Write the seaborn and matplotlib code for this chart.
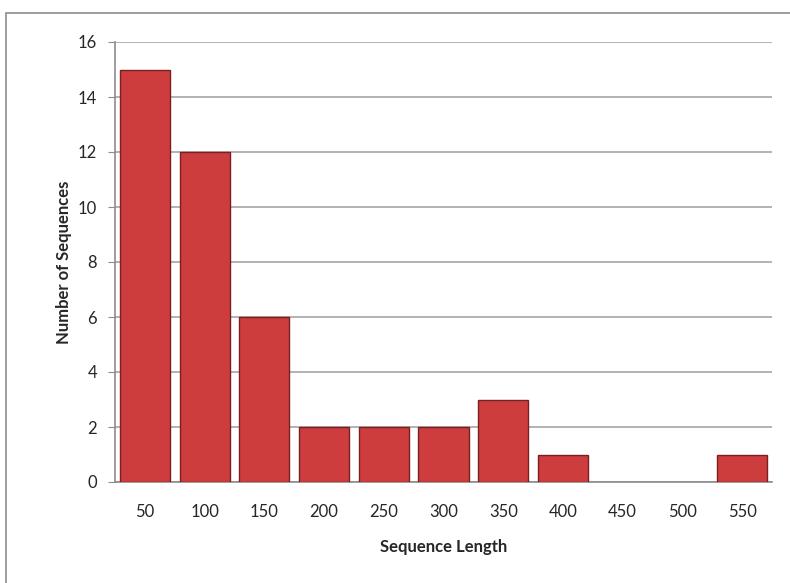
import matplotlib
matplotlib.use("Agg")
import matplotlib.pyplot as plt
import seaborn as sns
import pandas as pd
from matplotlib.patches import Rectangle

lengths = ["50", "100", "150", "200", "250", "300", "350", "400", "450", "500", "550"]
counts = [15, 12, 6, 2, 2, 2, 3, 1, 0, 0, 1]
y_ticks = [0, 2, 4, 6, 8, 10, 12, 14, 16]

df = pd.DataFrame({"Sequence Length": lengths, "Number of Sequences": counts})

sns.set_style("white")
plt.rcParams["font.family"] = ["Lato", "DejaVu Sans"]

fig = plt.figure(figsize=(7.9, 5.83), dpi=100)
ax = fig.add_axes([115 / 790, 1 - 482 / 583, (772 - 115) / 790, (482 - 42) / 583])

# outer chart border
fig.patches.append(Rectangle((6 / 790, -0.05), 1.1, 1 - 13 / 583 + 0.05,
                             transform=fig.transFigure, fill=False,
                             edgecolor="#8c8c8c", linewidth=1.2, zorder=0))

ax.set_axisbelow(True)
ax.yaxis.grid(True, color="#a6a6a6", linewidth=1.2)
sns.barplot(data=df, x="Sequence Length", y="Number of Sequences", ax=ax,
            color="#cd3d3d", edgecolor="#7a1f1f", linewidth=1.0,
            width=0.84, saturation=1, zorder=3)

for p in ax.patches:
    if p.get_height() == 0:
        p.set_linewidth(0)

ax.set_ylim(0, 16)
ax.set_yticks(y_ticks)
ax.set_xlim(-0.5, len(lengths) - 0.5)

for s in ["top", "right"]:
    ax.spines[s].set_visible(False)
ax.spines["left"].set_color("#8c8c8c")
ax.spines["bottom"].set_color("#8c8c8c")
ax.spines["left"].set_linewidth(1.2)
ax.spines["bottom"].set_linewidth(1.2)

ax.tick_params(axis="y", left=True, length=5, color="#8c8c8c", labelsize=12, pad=8)
ax.tick_params(axis="x", bottom=False, labelsize=12, pad=12)

ax.set_xlabel("Sequence Length", fontsize=12, fontweight="bold", labelpad=14)
ax.set_ylabel("Number of Sequences", fontsize=12, fontweight="bold", labelpad=4)

fig.savefig("out.png", dpi=100)
